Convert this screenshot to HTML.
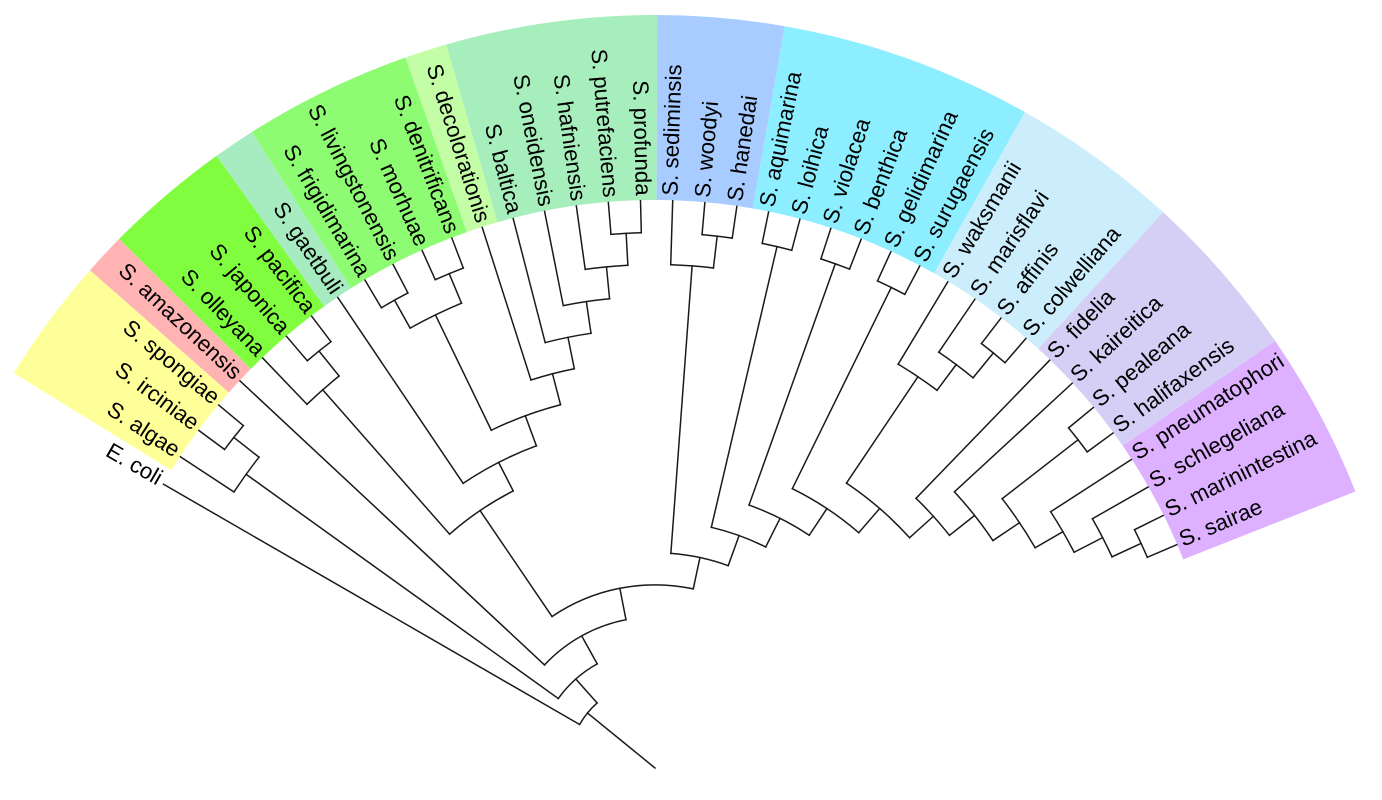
<!DOCTYPE html>
<html><head><meta charset="utf-8"><style>html,body{margin:0;padding:0;background:#fff;width:1382px;height:800px;overflow:hidden}svg{display:block;overflow:hidden}</style></head>
<body>
<svg xmlns="http://www.w3.org/2000/svg" width="1382" height="800" viewBox="0 0 1382 800">
<rect width="1382" height="800" fill="#fff"/>
<g transform="translate(655,768)">
<g fill="none" stroke-width="185">
<circle r="660.5" stroke="#FFFF99" stroke-dasharray="112.466 5000" transform="rotate(-148.374)"/>
<circle r="660.5" stroke="#FFB3B3" stroke-dasharray="37.489 5000" transform="rotate(-138.618)"/>
<circle r="660.5" stroke="#7FFD3E" stroke-dasharray="112.466 5000" transform="rotate(-135.366)"/>
<circle r="660.5" stroke="#A6ECC0" stroke-dasharray="37.489 5000" transform="rotate(-125.61)"/>
<circle r="660.5" stroke="#8EFC72" stroke-dasharray="149.955 5000" transform="rotate(-122.358)"/>
<circle r="660.5" stroke="#C3FEA6" stroke-dasharray="37.489 5000" transform="rotate(-109.35)"/>
<circle r="660.5" stroke="#A6EEBB" stroke-dasharray="187.444 5000" transform="rotate(-106.098)"/>
<circle r="660.5" stroke="#A8CCFF" stroke-dasharray="112.466 5000" transform="rotate(-89.838)"/>
<circle r="660.5" stroke="#8CEEFF" stroke-dasharray="224.932 5000" transform="rotate(-80.082)"/>
<circle r="660.5" stroke="#CCEEFC" stroke-dasharray="149.955 5000" transform="rotate(-60.57)"/>
<circle r="660.5" stroke="#D6CFF5" stroke-dasharray="149.955 5000" transform="rotate(-47.562)"/>
<circle r="660.5" stroke="#DDB1FF" stroke-dasharray="149.955 5000" transform="rotate(-34.554)"/>
</g>
<g fill="none" stroke="#1a1a1a" stroke-width="1.5" stroke-linecap="square">
<line x1="87.05" x2="567.5" transform="rotate(-150)"/>
<line x1="503.44" x2="567.5" transform="rotate(-146.748)"/>
<line x1="535.47" x2="567.5" transform="rotate(-143.496)"/>
<line x1="535.47" x2="567.5" transform="rotate(-140.244)"/>
<line x1="151.11" x2="567.5" transform="rotate(-136.992)"/>
<line x1="503.44" x2="567.5" transform="rotate(-133.74)"/>
<line x1="535.47" x2="567.5" transform="rotate(-130.488)"/>
<line x1="535.47" x2="567.5" transform="rotate(-127.236)"/>
<line x1="343.29" x2="567.5" transform="rotate(-123.984)"/>
<line x1="535.47" x2="567.5" transform="rotate(-120.732)"/>
<line x1="535.47" x2="567.5" transform="rotate(-117.48)"/>
<line x1="535.47" x2="567.5" transform="rotate(-114.228)"/>
<line x1="535.47" x2="567.5" transform="rotate(-110.976)"/>
<line x1="407.35" x2="567.5" transform="rotate(-107.724)"/>
<line x1="439.38" x2="567.5" transform="rotate(-104.472)"/>
<line x1="471.41" x2="567.5" transform="rotate(-101.22)"/>
<line x1="503.44" x2="567.5" transform="rotate(-97.968)"/>
<line x1="535.47" x2="567.5" transform="rotate(-94.716)"/>
<line x1="535.47" x2="567.5" transform="rotate(-91.464)"/>
<line x1="503.44" x2="567.5" transform="rotate(-88.212)"/>
<line x1="535.47" x2="567.5" transform="rotate(-84.96)"/>
<line x1="535.47" x2="567.5" transform="rotate(-81.708)"/>
<line x1="535.47" x2="567.5" transform="rotate(-78.456)"/>
<line x1="535.47" x2="567.5" transform="rotate(-75.204)"/>
<line x1="535.47" x2="567.5" transform="rotate(-71.952)"/>
<line x1="535.47" x2="567.5" transform="rotate(-68.7)"/>
<line x1="535.47" x2="567.5" transform="rotate(-65.448)"/>
<line x1="535.47" x2="567.5" transform="rotate(-62.196)"/>
<line x1="471.41" x2="567.5" transform="rotate(-58.944)"/>
<line x1="503.44" x2="567.5" transform="rotate(-55.692)"/>
<line x1="535.47" x2="567.5" transform="rotate(-52.44)"/>
<line x1="535.47" x2="567.5" transform="rotate(-49.188)"/>
<line x1="375.32" x2="567.5" transform="rotate(-45.936)"/>
<line x1="407.35" x2="567.5" transform="rotate(-42.684)"/>
<line x1="535.47" x2="567.5" transform="rotate(-39.432)"/>
<line x1="535.47" x2="567.5" transform="rotate(-36.18)"/>
<line x1="471.41" x2="567.5" transform="rotate(-32.928)"/>
<line x1="503.44" x2="567.5" transform="rotate(-29.676)"/>
<line x1="535.47" x2="567.5" transform="rotate(-26.424)"/>
<line x1="535.47" x2="567.5" transform="rotate(-23.172)"/>
<line x1="503.44" x2="535.47" transform="rotate(-141.87)"/>
<line x1="119.08" x2="503.44" transform="rotate(-144.309)"/>
<line x1="503.44" x2="535.47" transform="rotate(-128.862)"/>
<line x1="311.26" x2="503.44" transform="rotate(-131.301)"/>
<line x1="503.44" x2="535.47" transform="rotate(-119.106)"/>
<line x1="503.44" x2="535.47" transform="rotate(-112.602)"/>
<line x1="375.32" x2="503.44" transform="rotate(-115.854)"/>
<line x1="503.44" x2="535.47" transform="rotate(-93.09)"/>
<line x1="471.41" x2="503.44" transform="rotate(-95.529)"/>
<line x1="439.38" x2="471.41" transform="rotate(-98.3745)"/>
<line x1="407.35" x2="439.38" transform="rotate(-101.423)"/>
<line x1="375.32" x2="407.35" transform="rotate(-104.574)"/>
<line x1="343.29" x2="375.32" transform="rotate(-110.214)"/>
<line x1="311.26" x2="343.29" transform="rotate(-117.099)"/>
<line x1="183.14" x2="311.26" transform="rotate(-124.2)"/>
<line x1="503.44" x2="535.47" transform="rotate(-83.334)"/>
<line x1="215.17" x2="503.44" transform="rotate(-85.773)"/>
<line x1="247.2" x2="535.47" transform="rotate(-76.83)"/>
<line x1="279.23" x2="535.47" transform="rotate(-70.326)"/>
<line x1="311.26" x2="535.47" transform="rotate(-63.822)"/>
<line x1="503.44" x2="535.47" transform="rotate(-50.814)"/>
<line x1="471.41" x2="503.44" transform="rotate(-53.253)"/>
<line x1="343.29" x2="471.41" transform="rotate(-56.0985)"/>
<line x1="439.38" x2="535.47" transform="rotate(-37.806)"/>
<line x1="503.44" x2="535.47" transform="rotate(-24.798)"/>
<line x1="471.41" x2="503.44" transform="rotate(-27.237)"/>
<line x1="439.38" x2="471.41" transform="rotate(-30.0825)"/>
<line x1="407.35" x2="439.38" transform="rotate(-33.944)"/>
<line x1="375.32" x2="407.35" transform="rotate(-38.314)"/>
<line x1="343.29" x2="375.32" transform="rotate(-42.125)"/>
<line x1="311.26" x2="343.29" transform="rotate(-49.112)"/>
<line x1="279.23" x2="311.26" transform="rotate(-56.467)"/>
<line x1="247.2" x2="279.23" transform="rotate(-63.3965)"/>
<line x1="215.17" x2="247.2" transform="rotate(-70.113)"/>
<line x1="183.14" x2="215.17" transform="rotate(-77.943)"/>
<line x1="151.11" x2="183.14" transform="rotate(-101.0715)"/>
<line x1="119.08" x2="151.11" transform="rotate(-119.032)"/>
<line x1="87.05" x2="119.08" transform="rotate(-131.6705)"/>
<line x1="0" x2="87.05" transform="rotate(-140.835)"/>
<circle r="535.47" stroke-dasharray="30.392 5000" transform="rotate(-143.496)"/>
<circle r="503.44" stroke-dasharray="42.862 5000" transform="rotate(-146.748)"/>
<circle r="535.47" stroke-dasharray="30.392 5000" transform="rotate(-130.488)"/>
<circle r="503.44" stroke-dasharray="42.862 5000" transform="rotate(-133.74)"/>
<circle r="535.47" stroke-dasharray="30.392 5000" transform="rotate(-120.732)"/>
<circle r="535.47" stroke-dasharray="30.392 5000" transform="rotate(-114.228)"/>
<circle r="503.44" stroke-dasharray="57.149 5000" transform="rotate(-119.106)"/>
<circle r="535.47" stroke-dasharray="30.392 5000" transform="rotate(-94.716)"/>
<circle r="503.44" stroke-dasharray="42.862 5000" transform="rotate(-97.968)"/>
<circle r="471.41" stroke-dasharray="46.824 5000" transform="rotate(-101.22)"/>
<circle r="439.38" stroke-dasharray="46.760 5000" transform="rotate(-104.472)"/>
<circle r="407.35" stroke-dasharray="44.798 5000" transform="rotate(-107.724)"/>
<circle r="375.32" stroke-dasharray="73.890 5000" transform="rotate(-115.854)"/>
<circle r="343.29" stroke-dasharray="82.504 5000" transform="rotate(-123.984)"/>
<circle r="311.26" stroke-dasharray="77.153 5000" transform="rotate(-131.301)"/>
<circle r="535.47" stroke-dasharray="30.392 5000" transform="rotate(-84.96)"/>
<circle r="503.44" stroke-dasharray="42.862 5000" transform="rotate(-88.212)"/>
<circle r="535.47" stroke-dasharray="30.392 5000" transform="rotate(-78.456)"/>
<circle r="535.47" stroke-dasharray="30.392 5000" transform="rotate(-71.952)"/>
<circle r="535.47" stroke-dasharray="30.392 5000" transform="rotate(-65.448)"/>
<circle r="535.47" stroke-dasharray="30.392 5000" transform="rotate(-52.44)"/>
<circle r="503.44" stroke-dasharray="42.862 5000" transform="rotate(-55.692)"/>
<circle r="471.41" stroke-dasharray="46.824 5000" transform="rotate(-58.944)"/>
<circle r="535.47" stroke-dasharray="30.392 5000" transform="rotate(-39.432)"/>
<circle r="535.47" stroke-dasharray="30.392 5000" transform="rotate(-26.424)"/>
<circle r="503.44" stroke-dasharray="42.862 5000" transform="rotate(-29.676)"/>
<circle r="471.41" stroke-dasharray="46.824 5000" transform="rotate(-32.928)"/>
<circle r="439.38" stroke-dasharray="59.229 5000" transform="rotate(-37.806)"/>
<circle r="407.35" stroke-dasharray="62.138 5000" transform="rotate(-42.684)"/>
<circle r="375.32" stroke-dasharray="49.929 5000" transform="rotate(-45.936)"/>
<circle r="343.29" stroke-dasharray="83.723 5000" transform="rotate(-56.0985)"/>
<circle r="311.26" stroke-dasharray="79.912 5000" transform="rotate(-63.822)"/>
<circle r="279.23" stroke-dasharray="67.542 5000" transform="rotate(-70.326)"/>
<circle r="247.2" stroke-dasharray="57.958 5000" transform="rotate(-76.83)"/>
<circle r="215.17" stroke-dasharray="58.810 5000" transform="rotate(-85.773)"/>
<circle r="183.14" stroke-dasharray="147.856 5000" transform="rotate(-124.2)"/>
<circle r="151.11" stroke-dasharray="94.736 5000" transform="rotate(-136.992)"/>
<circle r="119.08" stroke-dasharray="52.534 5000" transform="rotate(-144.309)"/>
<circle r="87.05" stroke-dasharray="27.848 5000" transform="rotate(-150)"/>
</g>
<g font-family="'Liberation Sans', Arial, sans-serif" font-size="22.3" fill="#000">
<g text-anchor="end">
<text x="-572.5" dy="0.2em" transform="rotate(30)">E. coli</text>
<text x="-572.5" dy="0.2em" transform="rotate(33.252)">S. algae</text>
<text x="-572.5" dy="0.2em" transform="rotate(36.504)">S. irciniae</text>
<text x="-572.5" dy="0.2em" transform="rotate(39.756)">S. spongiae</text>
<text x="-572.5" dy="0.2em" transform="rotate(43.008)">S. amazonensis</text>
<text x="-572.5" dy="0.2em" transform="rotate(46.26)">S. olleyana</text>
<text x="-572.5" dy="0.2em" transform="rotate(49.512)">S. japonica</text>
<text x="-572.5" dy="0.2em" transform="rotate(52.764)">S. pacifica</text>
<text x="-572.5" dy="0.2em" transform="rotate(56.016)">S. gaetbuli</text>
<text x="-572.5" dy="0.2em" transform="rotate(59.268)">S. frigidimarina</text>
<text x="-572.5" dy="0.2em" transform="rotate(62.52)">S. livingstonensis</text>
<text x="-572.5" dy="0.2em" transform="rotate(65.772)">S. morhuae</text>
<text x="-572.5" dy="0.2em" transform="rotate(69.024)">S. denitrificans</text>
<text x="-572.5" dy="0.2em" transform="rotate(72.276)">S. decolorationis</text>
<text x="-572.5" dy="0.2em" transform="rotate(75.528)">S. baltica</text>
<text x="-572.5" dy="0.2em" transform="rotate(78.78)">S. oneidensis</text>
<text x="-572.5" dy="0.2em" transform="rotate(82.032)">S. hafniensis</text>
<text x="-572.5" dy="0.2em" transform="rotate(85.284)">S. putrefaciens</text>
<text x="-572.5" dy="0.2em" transform="rotate(88.536)">S. profunda</text>
</g>
<text x="572.5" dy="0.2em" transform="rotate(-88.212)">S. sediminsis</text>
<text x="572.5" dy="0.2em" transform="rotate(-84.96)">S. woodyi</text>
<text x="572.5" dy="0.2em" transform="rotate(-81.708)">S. hanedai</text>
<text x="572.5" dy="0.2em" transform="rotate(-78.456)">S. aquimarina</text>
<text x="572.5" dy="0.2em" transform="rotate(-75.204)">S. loihica</text>
<text x="572.5" dy="0.2em" transform="rotate(-71.952)">S. violacea</text>
<text x="572.5" dy="0.2em" transform="rotate(-68.7)">S. benthica</text>
<text x="572.5" dy="0.2em" transform="rotate(-65.448)">S. gelidimarina</text>
<text x="572.5" dy="0.2em" transform="rotate(-62.196)">S. surugaensis</text>
<text x="572.5" dy="0.2em" transform="rotate(-58.944)">S. waksmanii</text>
<text x="572.5" dy="0.2em" transform="rotate(-55.692)">S. marisflavi</text>
<text x="572.5" dy="0.2em" transform="rotate(-52.44)">S. affinis</text>
<text x="572.5" dy="0.2em" transform="rotate(-49.188)">S. colwelliana</text>
<text x="572.5" dy="0.2em" transform="rotate(-45.936)">S. fidelia</text>
<text x="572.5" dy="0.2em" transform="rotate(-42.684)">S. kaireitica</text>
<text x="572.5" dy="0.2em" transform="rotate(-39.432)">S. pealeana</text>
<text x="572.5" dy="0.2em" transform="rotate(-36.18)">S. halifaxensis</text>
<text x="572.5" dy="0.2em" transform="rotate(-32.928)">S. pneumatophori</text>
<text x="572.5" dy="0.2em" transform="rotate(-29.676)">S. schlegeliana</text>
<text x="572.5" dy="0.2em" transform="rotate(-26.424)">S. marinintestina</text>
<text x="572.5" dy="0.2em" transform="rotate(-23.172)">S. sairae</text>
</g>
</g>
</svg>
</body></html>
